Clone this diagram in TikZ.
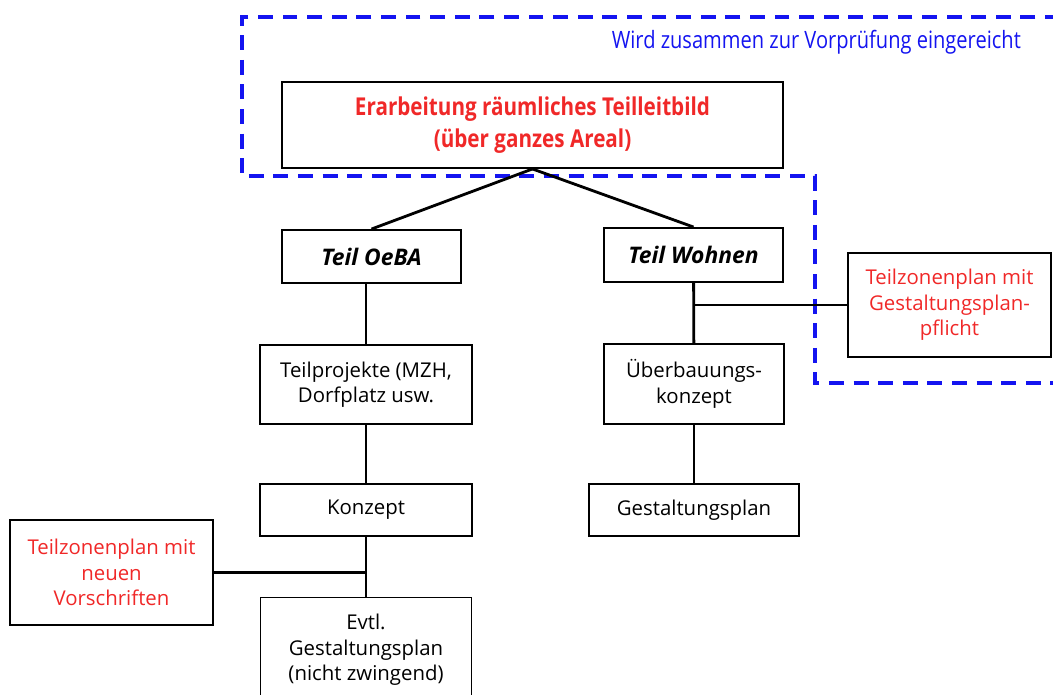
\documentclass[tikz,border=0pt]{standalone}
\usepackage{fontspec}
\setmainfont{Open Sans}
\newfontfamily\narrowfont[FakeStretch=0.84]{Open Sans}
\usetikzlibrary{positioning}

\definecolor{planred}{RGB}{240,40,40}
\definecolor{planblue}{RGB}{20,20,240}

\tikzset{
  box/.style={draw,line width=1.1pt,align=center,inner sep=2pt,font=\fontsize{11.6}{14.5}\selectfont},
  redbox/.style={box,text=planred},
  link/.style={line width=1.6pt},
}

\begin{document}
\begin{tikzpicture}[x=0.02cm,y=-0.02cm]
\useasboundingbox (0,0) rectangle (1053,695);

% area handed in together
\draw[planblue,line width=2.4pt,dash pattern=on 8.5pt off 5.5pt]
  (1060,17) -- (242,17) -- (242,176) -- (815,176) -- (815,383) -- (1060,383);
\node[anchor=east,text=planblue,font=\narrowfont\fontsize{13.6}{15}\selectfont] (note) at (1027,42) {Wird zusammen zur Vorprüfung eingereicht};

\node[box,minimum width=10.02cm,minimum height=1.72cm,text=planred,font=\narrowfont\bfseries\fontsize{14}{18.3}\selectfont] (leitbild) at (532.5,125)
  {Erarbeitung räumliches Teilleitbild\\(über ganzes Areal)};

\node[box,minimum width=3.58cm,minimum height=1.06cm,font=\bfseries\itshape\fontsize{13}{15}\selectfont] (oeba) at (371.5,256.5) {Teil OeBA};
\node[box,minimum width=3.58cm,minimum height=1.08cm,font=\bfseries\itshape\fontsize{13}{15}\selectfont] (wohnen) at (693.5,255) {Teil Wohnen};

% left branch
\node[box,minimum width=4.24cm,minimum height=1.58cm] (teilproj) at (366,384.5) {Teilprojekte (MZH,\\Dorfplatz usw.};
\node[box,minimum width=4.24cm,minimum height=1.04cm] (konzept) at (366,510) {Konzept};
\node[box,minimum width=4.22cm,minimum height=2.1cm] (evtl) at (366,650) {Evtl.\\Gestaltungsplan\\(nicht zwingend)};
\node[redbox,minimum width=4.06cm,minimum height=2.1cm] (tzpneu) at (111.5,572.5) {Teilzonenplan mit\\neuen\\Vorschriften};

% right branch
\node[box,minimum width=3.6cm,minimum height=1.6cm] (ueber) at (694,384) {Überbauungs-\\konzept};
\node[box,minimum width=4.2cm,minimum height=1.04cm] (gplan) at (694,510) {Gestaltungsplan};
\node[redbox,minimum width=4.06cm,minimum height=2.08cm] (tzpgp) at (949.5,305) {Teilzonenplan mit\\Gestaltungsplan-\\pflicht};

\coordinate (jl) at (konzept.south |- tzpneu.east);
\coordinate (jr) at (wohnen.south |- tzpgp.west);

\draw[link] (leitbild.south) -- (oeba.north);
\draw[link] (leitbild.south) -- (wohnen.north);
\draw[link] (teilproj.north |- oeba.south) -- (teilproj.north);
\draw[link] (teilproj) -- (konzept);
\draw[link] (konzept.south) -- (evtl.north);
\draw[link] (tzpneu.east) -- (jl);
\draw[link] (wohnen) -- (ueber);
\draw[link] (ueber) -- (gplan);
\draw[link] (jr) -- (tzpgp.west);

\end{tikzpicture}
\end{document}
